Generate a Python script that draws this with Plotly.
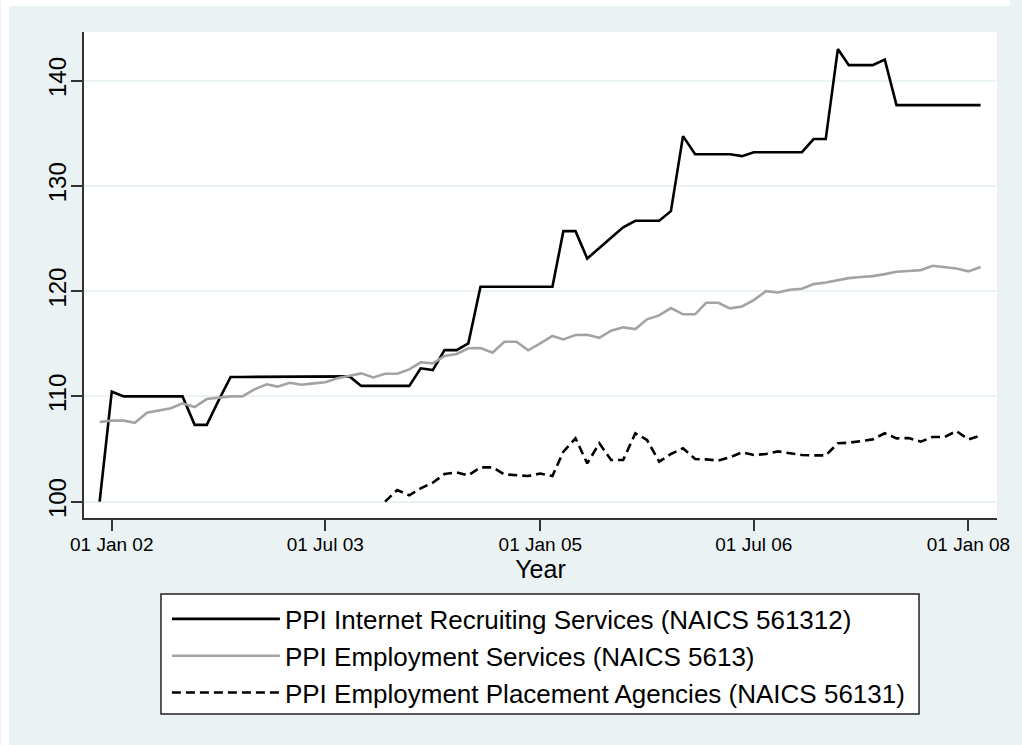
import pandas as pd
import plotly.graph_objects as go

# Monthly observations, Dec 2001 through Feb 2008
months = pd.date_range("2001-12-01", "2008-02-01", freq="MS")

internet_recruiting = [
    100.0, 110.45, 110.0, 110.0, 110.0, 110.0, 110.0, 110.0, 107.3, 107.3,
    109.6, 111.85, 111.85, 111.85, 111.85, 111.85, 111.9, 111.9, 111.9, 111.9,
    111.9, 111.9, 111.0, 111.0, 111.0, 111.0, 111.0, 112.67, 112.5, 114.4,
    114.4, 115.04, 120.42, 120.42, 120.42, 120.42, 120.42, 120.42, 120.42, 125.7,
    125.7, 123.1, 124.06, 125.07, 126.06, 126.69, 126.69, 126.69, 127.6, 134.73,
    133.0, 133.0, 133.0, 133.0, 132.83, 133.2, 133.2, 133.2, 133.2, 133.2,
    134.45, 134.45, 143.0, 141.47, 141.47, 141.47, 142.0, 137.67, 137.67, 137.67,
    137.67, 137.67, 137.67, 137.67, 137.67,
]

employment_services = [
    107.57, 107.7, 107.7, 107.5, 108.45, 108.64, 108.87, 109.34, 108.99, 109.75,
    109.88, 110.0, 110.0, 110.67, 111.15, 110.93, 111.3, 111.11, 111.24, 111.35,
    111.72, 111.94, 112.19, 111.81, 112.16, 112.16, 112.57, 113.24, 113.14, 113.84,
    114.03, 114.57, 114.6, 114.15, 115.2, 115.2, 114.38, 115.04, 115.74, 115.42,
    115.83, 115.86, 115.57, 116.24, 116.56, 116.4, 117.32, 117.7, 118.39, 117.8,
    117.8, 118.9, 118.9, 118.37, 118.55, 119.15, 120.0, 119.88, 120.13, 120.23,
    120.67, 120.83, 121.05, 121.24, 121.34, 121.43, 121.62, 121.84, 121.91, 122.0,
    122.41, 122.29, 122.16, 121.88, 122.29,
]

placement_agencies = [None] * 24 + [
    100.0, 101.11, 100.6, 101.27, 101.8, 102.63, 102.79, 102.5, 103.26, 103.26,
    102.6, 102.54, 102.44, 102.68, 102.44, 104.75, 106.02, 103.64, 105.55, 103.96,
    103.96, 106.5, 105.86, 103.8, 104.53, 105.07, 104.05, 104.02, 103.9, 104.22,
    104.69, 104.43, 104.53, 104.78, 104.59, 104.43, 104.4, 104.4, 105.55, 105.6,
    105.76, 105.92, 106.5, 106.02, 106.05, 105.7, 106.14, 106.14, 106.71, 105.92,
    106.27,
]

series_names = [
    "PPI Internet Recruiting Services (NAICS 561312)",
    "PPI Employment Services (NAICS 5613)",
    "PPI Employment Placement Agencies (NAICS 56131)",
]

x_tick_dates = ["2002-01-01", "2003-07-01", "2005-01-01", "2006-07-01", "2008-01-01"]
x_tick_labels = ["01 Jan 02", "01 Jul 03", "01 Jan 05", "01 Jul 06", "01 Jan 08"]
y_tick_values = [100, 110, 120, 130, 140]

W, H = 1022, 745
ML, MR, MT, MB = 84, 13, 32, 227
BG = "#EAF2F3"
FONT = "Liberation Sans, Arial, sans-serif"

fig = go.Figure()
fig.add_trace(go.Scatter(
    x=months, y=internet_recruiting, mode="lines", name=series_names[0],
    line=dict(color="#000000", width=2.6),
))
fig.add_trace(go.Scatter(
    x=months, y=employment_services, mode="lines", name=series_names[1],
    line=dict(color="#A3A3A3", width=2.6),
))
fig.add_trace(go.Scatter(
    x=months, y=placement_agencies, mode="lines", name=series_names[2],
    line=dict(color="#000000", width=2.6, dash="9px,5px"),
))

# pixel -> paper coordinate helpers
pw, ph = W - ML - MR, H - MT - MB
def px_x(p):
    return (p - ML) / pw
def px_y(p):
    return (H - MB - p) / ph

edge = dict(type="rect", xref="paper", yref="paper", layer="above",
            fillcolor="white", line=dict(width=0))
shapes = [
    # white strips along the top and left page edges
    dict(edge, x0=px_x(0), x1=px_x(8), y0=px_y(H), y1=px_y(0)),
    dict(edge, x0=px_x(0), x1=px_x(W), y0=px_y(6), y1=px_y(0)),
    # legend frame
    dict(type="rect", xref="paper", yref="paper", layer="above",
         fillcolor="white", line=dict(color="#222222", width=1.5),
         x0=px_x(162), x1=px_x(930), y0=px_y(714), y1=px_y(594)),
]

fig.update_layout(
    width=W, height=H,
    margin=dict(l=ML, r=MR, t=MT, b=MB, pad=0),
    paper_bgcolor=BG,
    plot_bgcolor="white",
    font=dict(family=FONT, color="#000000"),
    shapes=shapes,
    showlegend=True,
    legend=dict(
        x=px_x(168), y=px_y(595.5), xanchor="left", yanchor="top",
        bgcolor="rgba(0,0,0,0)", borderwidth=0,
        font=dict(size=26, family=FONT, color="#000000"),
        itemwidth=108, tracegroupgap=0,
    ),
    xaxis=dict(
        type="date",
        range=["2001-10-22", "2008-03-14"],
        tickvals=x_tick_dates, ticktext=x_tick_labels,
        ticks="outside", ticklen=11, tickwidth=1.5, tickcolor="#333333",
        tickfont=dict(size=19, family=FONT, color="#000000"),
        ticklabelstandoff=-3,
        showgrid=False, zeroline=False,
        showline=True, linecolor="#333333", linewidth=1.5,
        title=dict(text="Year", font=dict(size=25, family=FONT, color="#000000"),
                   standoff=0),
    ),
    yaxis=dict(
        range=[98.45, 144.62],
        tickvals=y_tick_values,
        tickangle=-90,
        ticks="outside", ticklen=11, tickwidth=1.5, tickcolor="#333333",
        tickfont=dict(size=24, family=FONT, color="#000000"),
        ticklabelstandoff=-4,
        showgrid=True, gridcolor=BG, gridwidth=2,
        zeroline=False,
        showline=True, linecolor="#333333", linewidth=1.5,
    ),
)

fig.write_html("out.html")
